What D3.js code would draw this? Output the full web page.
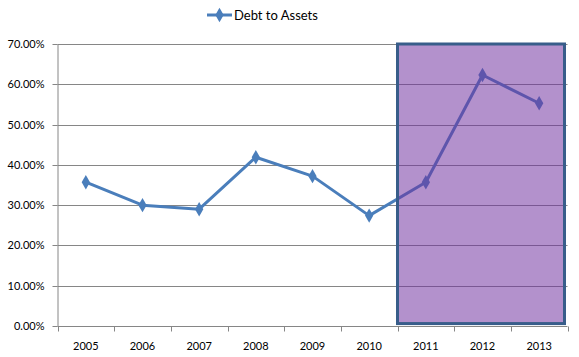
<!DOCTYPE html>
<html><head><meta charset="utf-8">
<script src="https://cdn.jsdelivr.net/npm/d3@7"></script>
<style>body{margin:0;background:#fff}svg{display:block}text{font-family:Lato,"Open Sans",sans-serif}</style>
</head><body>
<svg id="c" width="579" height="357"></svg>
<script>
const years = ["2005","2006","2007","2008","2009","2010","2011","2012","2013"];
const debtToAssets = [0.357, 0.300, 0.290, 0.419, 0.372, 0.274, 0.357, 0.623, 0.553];
const yTicks = [0, 0.1, 0.2, 0.3, 0.4, 0.5, 0.6, 0.7];
const seriesName = "Debt to Assets";
const highlightFrom = "2011", highlightTo = "2013";
const highlightTop = 0.70, highlightBottom = 0.006;

const svg = d3.select("#c");
const m = {l:57.5, r:11.5, t:44, b:31};
const W = 579, H = 357;
const x = d3.scaleBand().domain(years).range([m.l, W - m.r]);
const y = d3.scaleLinear().domain([0, 0.7]).range([H - m.b, m.t]);
const fmt = d3.format(".2%");
const grey = "#868686";

// gridlines
svg.append("g").selectAll("line").data(yTicks.filter(d=>d>0)).join("line")
  .attr("x1", m.l).attr("x2", W - m.r)
  .attr("y1", d=>Math.round(y(d))+0.5).attr("y2", d=>Math.round(y(d))+0.5)
  .attr("stroke", grey).attr("stroke-width", 1);

// y axis
const ya = svg.append("g").attr("transform", `translate(${m.l},0)`)
  .call(d3.axisLeft(y).tickValues(yTicks).tickFormat(fmt).tickSize(5).tickPadding(8)
    .tickSizeOuter(0));
ya.select(".domain").attr("stroke", grey);
ya.selectAll(".tick line").attr("stroke", grey);
ya.selectAll(".tick").attr("transform", d=>`translate(0,${Math.round(y(d))+0.5})`);
ya.selectAll("text").attr("font-size", 11).attr("fill", "#000").attr("font-family", "Lato, sans-serif");

// x axis
const xa = svg.append("g").attr("transform", `translate(0,${Math.round(y(0))+0.5})`);
xa.append("line").attr("x1", m.l).attr("x2", W - m.r).attr("stroke", grey);
const bounds = years.map(d=>x(d)).concat([x(years[years.length-1]) + x.bandwidth()]);
xa.selectAll("line.tk").data(bounds).join("line").attr("class","tk")
  .attr("x1", d=>Math.round(d)+0.5).attr("x2", d=>Math.round(d)+0.5)
  .attr("y1", 0).attr("y2", 5).attr("stroke", grey);
xa.selectAll("text").data(years).join("text")
  .attr("x", d=>x(d)+x.bandwidth()/2).attr("y", 23)
  .attr("text-anchor","middle").attr("font-size", 11).attr("fill","#000").text(d=>d);

// line
const line = d3.line().x((d,i)=>x(years[i])+x.bandwidth()/2).y(d=>y(d));
svg.append("path").datum(debtToAssets).attr("d", line)
  .attr("fill","none").attr("stroke","#4a7ebb").attr("stroke-width",3).attr("stroke-linejoin","round");
const diamond = d3.symbol().type(d3.symbolDiamond).size(60);
svg.append("g").selectAll("path").data(debtToAssets).join("path")
  .attr("transform",(d,i)=>`translate(${x(years[i])+x.bandwidth()/2},${y(d)})`)
  .attr("d", diamond).attr("fill","#4a7ebb");

// highlight rectangle (semi-transparent overlay)
const hx0 = x(highlightFrom);
const hx1 = x(highlightTo) + x.bandwidth()*0.947;
svg.append("rect")
  .attr("x", hx0).attr("y", y(highlightTop))
  .attr("width", hx1 - hx0).attr("height", y(highlightBottom) - y(highlightTop))
  .attr("fill","rgba(112,48,160,0.535)").attr("stroke","#385d8a").attr("stroke-width",3);

// legend
const lg = svg.append("g").attr("transform","translate(207,15)");
lg.append("line").attr("x1",0).attr("x2",25).attr("stroke","#4a7ebb").attr("stroke-width",3);
lg.append("path").attr("transform","translate(12.5,0)").attr("d", diamond).attr("fill","#4a7ebb");
lg.append("text").attr("x",27).attr("y",4.5).attr("font-size",13).attr("fill","#000").text(seriesName);
</script>
</body></html>
